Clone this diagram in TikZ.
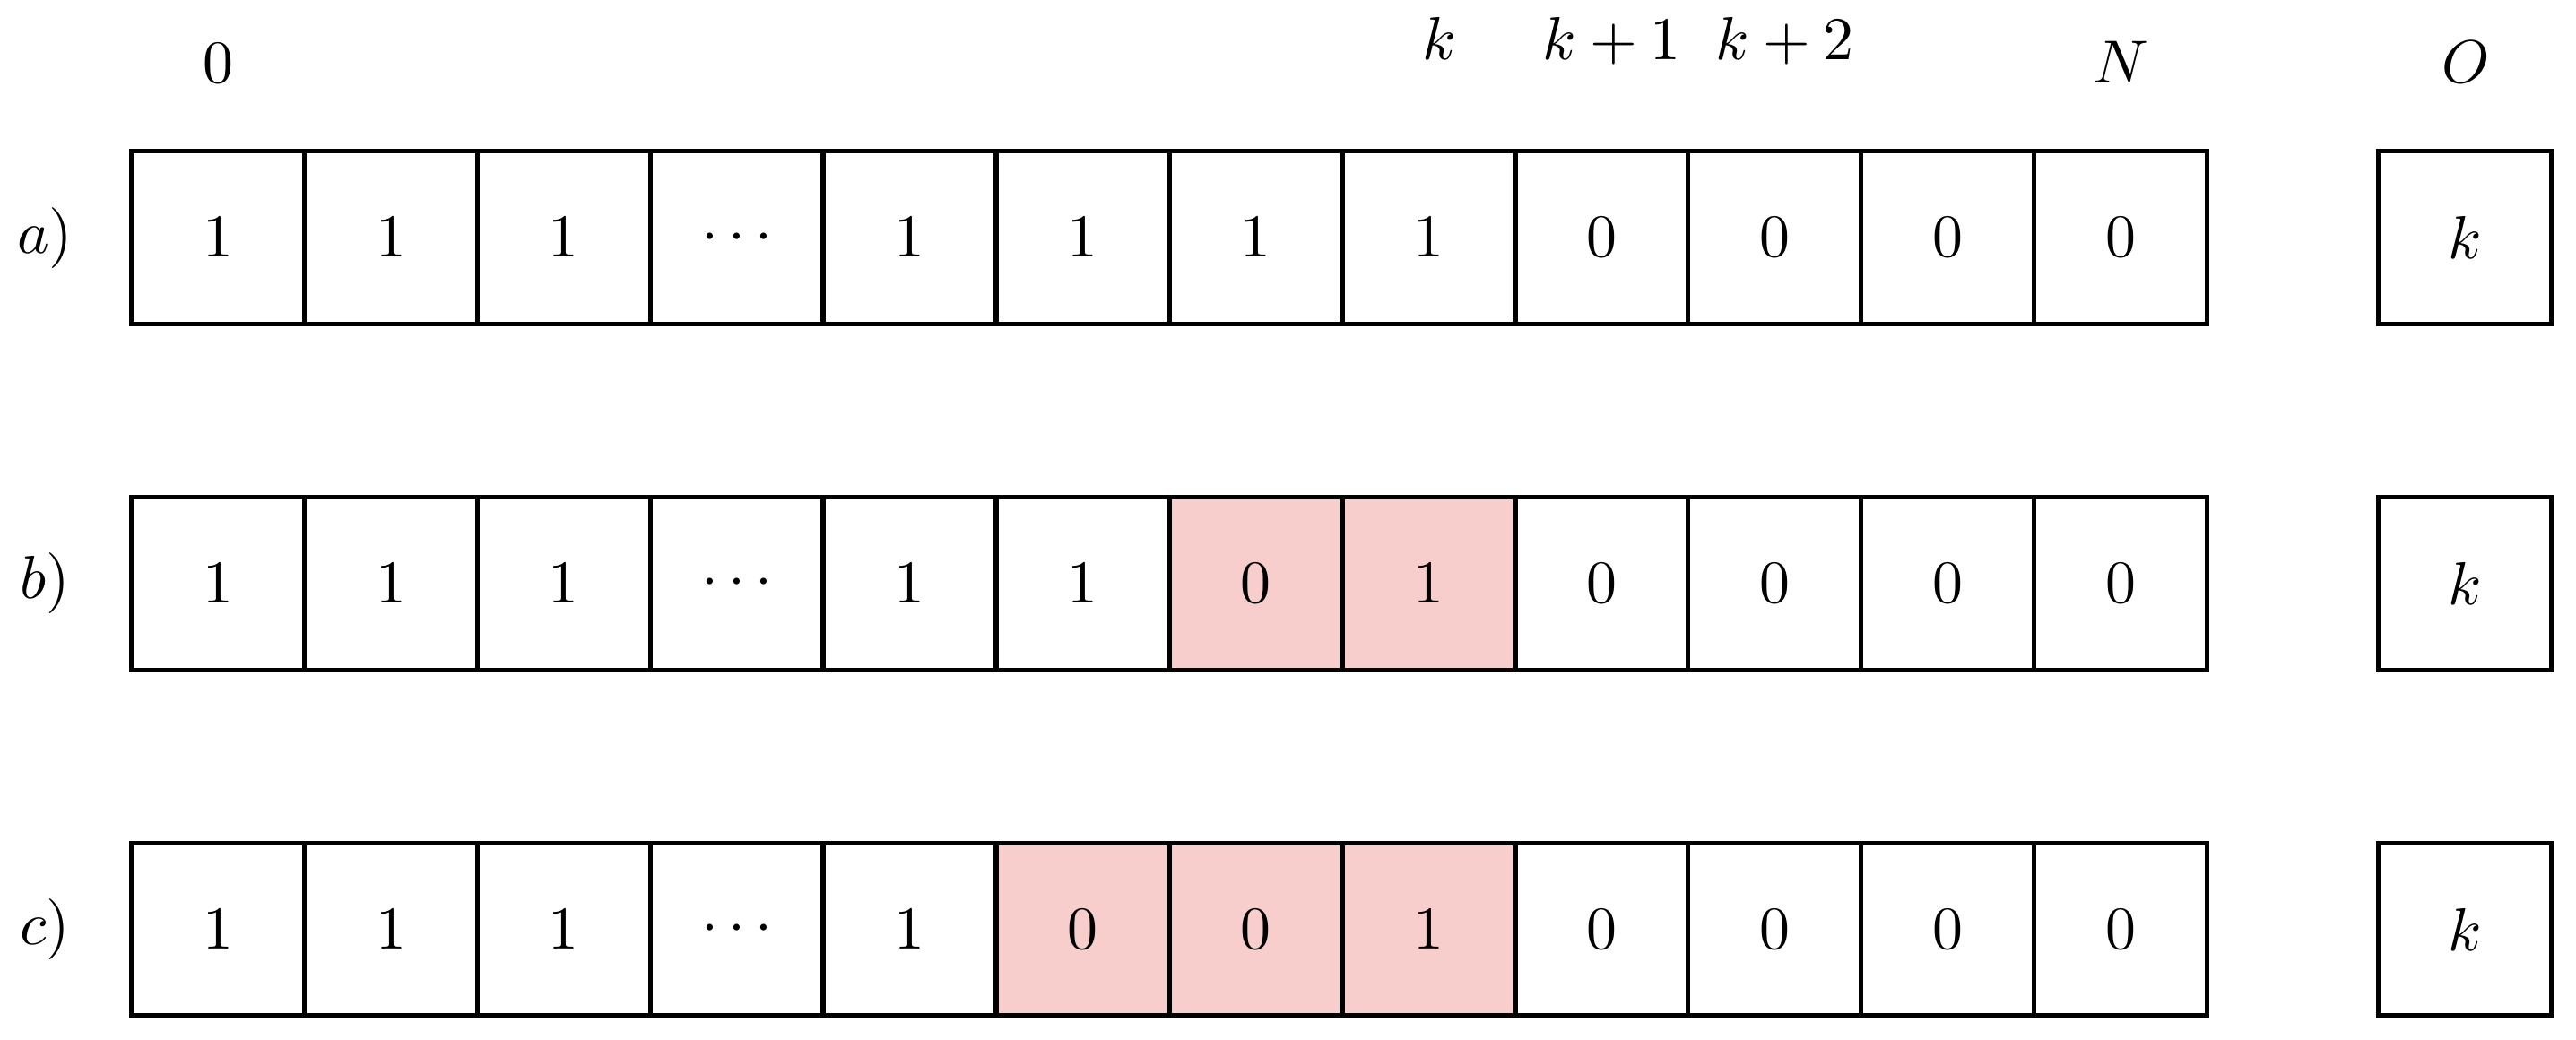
\documentclass[tikz,border=0pt]{standalone}
\definecolor{hl}{HTML}{F8CECC}
\begin{document}
\begin{tikzpicture}[
  cell/.style={draw, line width=0.8pt, minimum size=1cm, inner sep=0pt, anchor=center},
  w/.style={cell, fill=white},
  p/.style={cell, fill=hl},
  toplabel/.style={anchor=base, inner sep=0pt},
  rowlabel/.style={anchor=center, inner sep=0pt}
]
\useasboundingbox (0,-6.013) rectangle (14.894,0);
% rows of cells
\foreach \r/\y/\vals in {
  a/-1.374/{1/w,1/w,1/w,\cdots/w,1/w,1/w,1/w,1/w,0/w,0/w,0/w,0/w},
  b/-3.374/{1/w,1/w,1/w,\cdots/w,1/w,1/w,0/p,1/p,0/w,0/w,0/w,0/w},
  c/-5.374/{1/w,1/w,1/w,\cdots/w,1/w,0/p,0/p,1/p,0/w,0/w,0/w,0/w}} {
  \foreach \v/\s [count=\i from 0] in \vals {
    \node[\s] (\r\i) at ({1.26+\i}, \y) {$\v$};
  }
  \node[cell] (O\r) at (14.25, \y) {$k$};
  \node[rowlabel] (lab\r) at (0.26, \y) {$\r)$};
}
% top labels
\node[toplabel] (t0) at (1.26, -0.477) {$0$};
\node[toplabel] (tk) at (8.32, -0.347) {$k$};
\node[toplabel] (tk1) at (9.32, -0.347) {$k+1$};
\node[toplabel] (tk2) at (10.32, -0.347) {$k+2$};
\node[toplabel] (tN) at (12.26, -0.477) {$N$};
\node[toplabel] (tO) at (14.26, -0.477) {$O$};
\end{tikzpicture}
\end{document}
